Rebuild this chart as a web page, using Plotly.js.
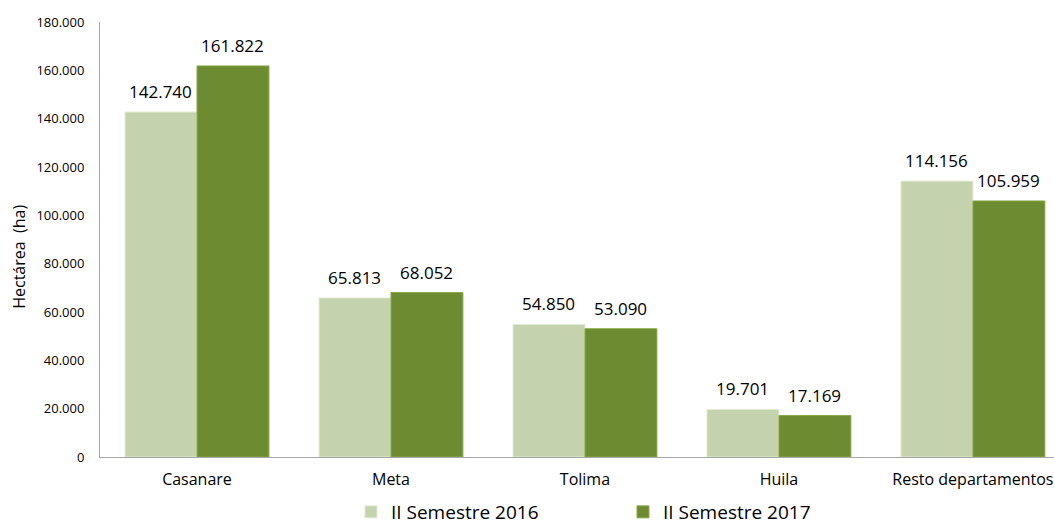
<!DOCTYPE html>
<html>
<head>
<meta charset="utf-8">
<script src="https://cdn.plot.ly/plotly-3.0.1.min.js"></script>
<style>html,body{margin:0;padding:0;background:#fff;}#chart{width:1054px;height:524px;}</style>
</head>
<body>
<div id="chart"></div>
<script>
const categories = ["Casanare", "Meta", "Tolima", "Huila", "Resto departamentos"];
const series2016 = [142740, 65813, 54850, 19701, 114156];
const series2017 = [161822, 68052, 53090, 17169, 105959];
const seriesNames = ["II Semestre 2016", "II Semestre 2017"];
const yTicks = [0, 20000, 40000, 60000, 80000, 100000, 120000, 140000, 160000, 180000];
const yTitle = "Hectárea  (ha)";

const FONT = "'Open Sans', 'Noto Sans', sans-serif";
function fmt(v) { return String(v).replace(/\B(?=(\d{3})+(?!\d))/g, "."); }

const traces = [
  {
    type: "bar", name: seriesNames[0], x: categories, y: series2016,
    marker: { color: "#c4d3ae", line: { color: "#e2ecd4", width: 1 } },
    hoverinfo: "skip"
  },
  {
    type: "bar", name: seriesNames[1], x: categories, y: series2017,
    marker: { color: "#6d8c31", line: { color: "#8aab4a", width: 1 } },
    hoverinfo: "skip"
  }
];

const annotations = [];
[series2016, series2017].forEach((s, si) => {
  s.forEach((v, i) => {
    annotations.push({
      x: categories[i], y: v, xref: "x", yref: "y",
      text: fmt(v), showarrow: false, yanchor: "bottom",
      xshift: si === 0 ? -36 : 36, yshift: 7,
      font: { family: FONT, size: 17, color: "#000" }
    });
  });
});
annotations.push({
  xref: "paper", yref: "paper", x: -0.085, y: 0.46, xanchor: "center", yanchor: "middle",
  text: yTitle, textangle: -90, showarrow: false,
  font: { family: FONT, size: 16, color: "#000" }
});

const layout = {
  width: 1054, height: 524,
  margin: { l: 100, r: 0, t: 22, b: 67, pad: 0, autoexpand: false },
  paper_bgcolor: "#fff", plot_bgcolor: "#fff",
  separators: ",.",
  barmode: "group", bargap: 0.258, bargroupgap: 0,
  font: { family: FONT, color: "#000" },
  xaxis: {
    type: "category", range: [-0.5, 4.418],
    showline: true, linecolor: "#a6a6a6", linewidth: 1,
    showgrid: false, zeroline: false, ticks: "",
    tickfont: { family: FONT, size: 16, color: "#000" },
    ticklabelstandoff: 8, fixedrange: true, automargin: false
  },
  yaxis: {
    range: [0, 180000], tickvals: yTicks, tickformat: ",d",
    showline: true, linecolor: "#a6a6a6", linewidth: 1,
    showgrid: false, zeroline: false, ticks: "",
    tickfont: { family: FONT, size: 13, color: "#000" },
    ticklabelstandoff: 12, fixedrange: true, automargin: false
  },
  showlegend: true,
  legend: {
    orientation: "h", xref: "container", yref: "container",
    x: 0.333, xanchor: "left", y: 0.0229, yanchor: "middle",
    entrywidth: 227, entrywidthmode: "pixels",
    font: { family: FONT, size: 19, color: "#000" },
    bgcolor: "rgba(0,0,0,0)"
  },
  annotations: annotations
};

Plotly.newPlot("chart", traces, layout, { displayModeBar: false, staticPlot: true });
</script>
</body>
</html>
